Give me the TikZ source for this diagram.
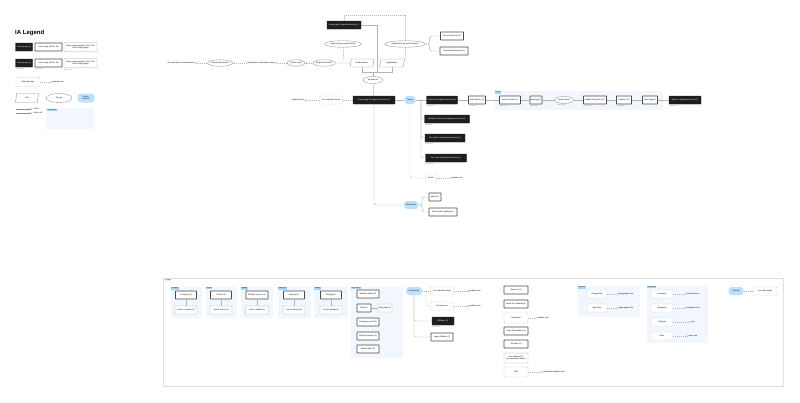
\documentclass[tikz,border=0pt]{standalone}
\usepackage{fontspec}
\setmainfont{Liberation Sans}
\usepackage{xcolor}
\usepackage{tikz}
\usetikzlibrary{shapes.geometric}
\usetikzlibrary{arrows.meta}
\usetikzlibrary{positioning}

\definecolor{ink}{HTML}{1E1E1E}
\definecolor{wire}{HTML}{B4B4B4}
\definecolor{actblue}{HTML}{BDE1FD}
\definecolor{areablue}{HTML}{F1F7FD}
\definecolor{tagblue}{HTML}{A9D3F5}

\begin{document}
\begin{tikzpicture}[x=1pt, y=-1pt, font=\fontsize{2}{2.4}\selectfont,
  blackpage/.style={draw=ink, fill=ink, text=white, minimum height=8pt, inner sep=0.5pt, rounded corners=0.3pt},
  page/.style={draw=black!70, line width=0.7pt, fill=white, minimum height=8pt, inner sep=0.5pt, rounded corners=0.3pt},
  lightpage/.style={draw=black!35, line width=0.45pt, fill=white, minimum height=8pt, inner sep=0.5pt, rounded corners=0.3pt},
  extpage/.style={draw=black!30, dashed, dash pattern=on 1pt off 0.8pt, line width=0.4pt, fill=white, minimum height=8pt, inner sep=0.5pt, rounded corners=0.8pt},
  tabpage/.style={draw=black!40, line width=0.4pt, fill=white, trapezium, trapezium left angle=60, trapezium right angle=120, trapezium stretches body, minimum height=8pt, inner sep=0.3pt},
  popup/.style={draw=black!40, line width=0.4pt, fill=white, ellipse, inner sep=0pt, minimum height=6.5pt},
  action/.style={fill=actblue, rounded corners=3pt, minimum height=8pt, inner sep=1pt},
  caption/.style={text=black!50, font=\fontsize{1.5}{1.8}\selectfont, anchor=north west, inner sep=0.2pt},
  tag/.style={fill=tagblue, font=\fontsize{1.6}{1.9}\selectfont, anchor=north west, inner sep=0.5pt},
  plain/.style={inner sep=0.3pt},
  line/.style={draw=wire, line width=0.45pt},
  link/.style={draw=wire, line width=0.45pt, dash pattern=on 1pt off 1pt, -{Stealth[length=1.6pt, width=1.5pt]}}
]

\useasboundingbox (0,0) rectangle (800,402);
\fill[white] (0,0) rectangle (800,402);

\node[font=\bfseries\fontsize{6}{7}\selectfont, anchor=west, inner sep=0pt] (legend) at (15,33) {IA Legend};
\node[blackpage, minimum width=17pt] (lg1) at (24,47) {Home page (1)};
\node[page, minimum width=27pt] (lg2) at (48.5,47) {Home page (1/2 lk, 2k)};
\node[lightpage, minimum width=33pt, minimum height=9pt, align=center] (lg3) at (80.5,47) {Home subsite pages (1/2 lk, 2k)\\Link \& thing pages};
\node[blackpage, minimum width=17pt] (lg4) at (24,63) {Home page (1)};
\node[page, minimum width=27pt] (lg5) at (48.5,63) {Home page (1/2 lk, 2k)};
\node[lightpage, minimum width=33pt, minimum height=9pt, align=center] (lg6) at (80.5,63) {Home subsite pages (1/2 lk, 2k)\\Link \& thing pages};
\node[caption] (lgc4) at ([yshift=-1pt]lg4.south west) {Sub domain};
\node[caption] (lgc5) at ([yshift=-1pt]lg5.south west) {Sub domain};
\node[caption] (lgc6) at ([yshift=-1pt]lg6.south west) {Sub domain};
\node[extpage, minimum width=24pt, minimum height=9pt] (lgext) at (28,82) {External page};
\node[plain] (lgweb) at (58,82) {website.com};
\node[tabpage, minimum width=23pt, minimum height=9pt] (lgtab) at (27,98) {Tab};
\node[popup, minimum width=26pt, minimum height=9pt] (lgpop) at (59,98) {Pop up};
\node[action, minimum width=17pt, minimum height=9pt, align=center] (lgact) at (86,98) {Action\\(click to)};
\coordinate (lgl1a) at (16,109);
\coordinate (lgl1b) at (32,109);
\coordinate (lgl2a) at (16,113);
\coordinate (lgl2b) at (32,113);
\node[plain, anchor=west] (lgt1) at (33,109) {Link to};
\node[plain, anchor=west] (lgt2) at (33,113) {Link to all};
\fill[areablue] (46,108) rectangle (94,129);
\node[tag] (lgarea) at (47,109) {Limited area};

\path[link] (lgext) -- (lgweb);
\path[draw=black!45, line width=0.45pt, -{Stealth[length=1.6pt, width=1.5pt]}] (lgl1a) -- (lgl1b);
\path[draw=black!45, line width=0.45pt, -{Stealth[length=1.6pt, width=1.5pt, open]}] (lgl2a) -- (lgl2b);

\node[blackpage, minimum width=34pt] (reghome) at (344,25) {Home page (Registered users) (1)};
\node[popup, minimum width=37pt] (loginsoc) at (343,44) {Login using a social network};
\node[popup, minimum width=41pt] (regsoc) at (405,44) {Registration via social network};
\node[page, minimum width=23pt] (tos) at (452,36) {Terms of Service (1)};
\node[page, minimum width=28pt] (pinfo) at (454,51) {Personal information (1)};
\node[tabpage, minimum width=24pt] (auth) at (362,63) {Authorization};
\node[tabpage, minimum width=25pt] (reg) at (392,63) {Registration};
\node[popup, minimum width=19pt] (forgot) at (324,63) {Forgot password?};
\node[popup, minimum width=18pt] (linkmail) at (296,63) {Link to email};
\node[plain] (regmail) at (261,63) {Registration confirmation email};
\node[popup, minimum width=25pt] (remind) at (220,63) {Password reminder};
\node[plain] (newpass) at (181,63) {An email with a new password};
\node[popup, minimum width=20pt, minimum height=7pt] (account) at (373,80) {My account};

\node[blackpage, minimum width=42pt] (home) at (374,100) {Home page (Unregistered users) (1)};
\node[extpage, minimum width=23pt] (corp) at (331,100) {For corporate clients};
\node[plain] (site) at (298,100) {Website.com};
\node[action, minimum width=11pt] (topics) at (410,100) {Topics};
\node[blackpage, minimum width=31pt] (topicsu) at (442,100) {Topics (Unregistered users) (1)};
\node[page, minimum width=17pt] (tart) at (477,100) {Topic articles (1)};
\fill[areablue] (495,91) rectangle (663,110);
\node[tag] (pricing) at (495,91) {Pricing};
\node[page, minimum width=21pt] (search) at (510,100) {Search results (1)};
\node[page, minimum width=12pt] (booking) at (536,100) {Booking (1)};
\node[popup, minimum width=19pt, minimum height=7pt] (book) at (564,100) {Book a table};
\node[page, minimum width=23pt] (extra) at (595,100) {Additional services (1)};
\node[page, minimum width=15pt] (pay) at (624,100) {Payment (1)};
\node[page, minimum width=15pt] (your) at (650,100) {Your Page (1)};
\node[blackpage, minimum width=32pt] (regpage) at (685,100) {Page for Registered users (1)};
\node[caption] (ctopicsu) at ([yshift=-1pt]topicsu.south west) {Sub domain};
\node[caption] (ctart) at ([yshift=-1pt]tart.south west) {Sub domain};
\node[caption] (csearch) at ([yshift=-1pt]search.south west) {Sub domain};
\node[caption] (cbooking) at ([yshift=-1pt]booking.south west) {Sub domain};
\node[caption] (cbook) at ([yshift=-1pt]book.south west) {Sub domain};
\node[caption] (cextra) at ([yshift=-1pt]extra.south west) {Sub domain};
\node[caption] (cpay) at ([yshift=-1pt]pay.south west) {Sub domain};
\node[caption] (cregpage) at ([yshift=-1pt]regpage.south west) {Sub domain};

\node[blackpage, minimum width=45pt] (mob) at (447,119) {Mobility solutions (Unregistered users) (1)};
\node[blackpage, minimum width=40pt] (clients) at (445,138) {Our clients (Unregistered users) (1)};
\node[blackpage, minimum width=41pt] (news) at (446,158) {Our news (Unregistered users) (1)};
\node[caption] (cmob) at ([yshift=-1pt]mob.south west) {Sub domain};
\node[caption] (cclients) at ([yshift=-1pt]clients.south west) {Sub domain};
\node[caption] (cnews) at ([yshift=-1pt]news.south west) {Sub domain};
\node[extpage, minimum width=11pt] (article) at (431,178) {Article};
\node[plain] (artweb) at (457,178) {website.com};
\node[action, minimum width=14pt] (info) at (411,205) {Information};
\node[page, minimum width=12pt] (about) at (435,197) {About (1)};
\node[page, minimum width=28pt] (terms) at (443,212) {Terms and Conditions (1)};
\coordinate (fork) at (421,100);

\path[link] (remind) -- (newpass);
\path[link] (regmail) -- (remind);
\path[link] (linkmail) -- (regmail);
\path[link] (forgot) -- (linkmail);
\path[line] (auth) -- (forgot);
\path[line, dash pattern=on 1pt off 1pt] (loginsoc) -- (loginsoc |- auth.north);
\path[line, dash pattern=on 1pt off 1pt] (regsoc) -- (regsoc |- reg.north);
\path[line, dash pattern=on 1pt off 1pt] (reghome.north) |- (344,15) -| (regsoc.north);
\path[line] (reghome.east) -| (377,72);
\path[line] (auth.south) |- (373,72) -- (account.north);
\path[line] (reg.south) |- (373,72);
\path[line, rounded corners=2pt] (regsoc.east) -- ++(4,0) |- (tos.west);
\path[line, rounded corners=2pt] (regsoc.east) -- ++(4,0) |- (pinfo.west);
\path[line] (account) -- (home);
\path[line, dash pattern=on 1pt off 1pt] (home) -- (corp);
\path[link] (corp) -- (site);
\path[line] (home) -- (topics);
\path[line] (topics) -- (topicsu);
\path[line] (topicsu) -- (tart);
\path[line] (tart) -- (search);
\path[line] (search) -- (booking);
\path[line] (booking) -- (book);
\path[line] (book) -- (extra);
\path[line] (extra) -- (pay);
\path[line] (pay) -- (your);
\path[line] (your) -- (regpage);
\path[line, rounded corners=2pt] (fork) |- (mob.west);
\path[line, rounded corners=2pt] (fork) |- (clients.west);
\path[line, rounded corners=2pt] (fork) |- (news.west);
\path[line, dash pattern=on 1pt off 1pt, rounded corners=2pt] (topics.south) |- (article.west);
\path[link] (article) -- (artweb);
\path[line, rounded corners=2pt] (home.south) |- (info.west);
\path[line, rounded corners=2pt] (info.east) -- ++(4,0) |- (about.west);
\path[line, rounded corners=2pt] (info.east) -- ++(4,0) |- (terms.west);

\draw[black!12, line width=0.4pt] (163,278) rectangle (783,386);
\node[fill=black!8, font=\fontsize{1.8}{2}\selectfont, anchor=north west, inner sep=0.5pt] (footer) at (165,279) {Footer};

\fill[areablue] (171,287) rectangle (202,318);
\fill[areablue] (206,287) rectangle (237,318);
\fill[areablue] (241,287) rectangle (273,318);
\fill[areablue] (278,287) rectangle (311,318);
\fill[areablue] (314,287) rectangle (348,318);
\fill[areablue] (351,287) rectangle (403,358);
\node[tag] (tcompany) at (171,287) {Company};
\node[tag] (tclients) at (206,287) {Clients};
\node[tag] (tmobility) at (241,287) {Mobility};
\node[tag] (tindustry) at (278,287) {Industry (1)};
\node[tag] (tsettings) at (314,287) {Settings};
\node[tag] (tservices) at (351,287) {Our services};

\node[page, minimum width=21pt] (fa1) at (186,295) {Company (1)};
\node[lightpage, minimum width=22pt] (fa2) at (186,310) {Link to company (1)};
\node[page, minimum width=21pt] (fb1) at (221,295) {Clients (1)};
\node[lightpage, minimum width=22pt] (fb2) at (221,310) {Link to clients (1)};
\node[page, minimum width=22pt] (fc1) at (257,295) {Mobility services (1)};
\node[lightpage, minimum width=23pt] (fc2) at (257,310) {Link to mobility (1)};
\node[page, minimum width=21pt] (fd1) at (294,295) {Industry (1)};
\node[lightpage, minimum width=22pt] (fd2) at (294,310) {Link to industry (1)};
\node[page, minimum width=21pt] (fe1) at (331,295) {Settings (1)};
\node[lightpage, minimum width=22pt] (fe2) at (331,310) {Link to settings (1)};
\path[line] (fa1) -- (fa2);
\path[line] (fb1) -- (fb2);
\path[line] (fc1) -- (fc2);
\path[line] (fd1) -- (fd2);
\path[line] (fe1) -- (fe2);

\node[page, minimum width=22pt] (srv1) at (368,294) {Mobility catalog (1)};
\node[page, minimum width=14pt] (blog) at (364,308) {Blog (1)};
\node[lightpage, minimum width=14pt] (blogpage) at (385,308) {Blog page (1)};
\node[page, minimum width=22pt] (srv2) at (368,322) {Company portal (1)};
\node[page, minimum width=22pt] (srv3) at (368,336) {Flight Generator (1)};
\node[page, minimum width=22pt] (srv4) at (368,349) {Special offer (1)};
\path[line] (blog) -- (blogpage);

\node[action, minimum width=16pt] (partner) at (414,291) {Partnership};
\node[extpage, minimum width=23pt] (corp2) at (442,291) {For corporate clients};
\node[extpage, minimum width=23pt] (biz) at (442,306) {For business};
\node[plain] (corpweb) at (475,291) {website.com};
\node[plain] (bizweb) at (475,306) {website.com};
\node[blackpage, minimum width=22pt] (aff) at (443,321) {Affiliates (1)};
\node[caption] (caff) at ([yshift=-1pt]aff.south west) {Sub domain};
\node[page, minimum width=22pt] (afflog) at (442,337) {Login Affiliates (1)};
\path[line, dash pattern=on 1pt off 1pt] (partner) -- (corp2);
\path[line, dash pattern=on 1pt off 1pt, rounded corners=2pt] (426,291) |- (biz.west);
\path[link] (corp2) -- (corpweb);
\path[link] (biz) -- (bizweb);
\path[line, rounded corners=2pt] (partner.south) |- (aff.west);
\path[line, rounded corners=2pt] (partner.south) |- (afflog.west);

\node[page, minimum width=24pt] (aboutus) at (516,290) {About us (1)};
\node[page, minimum width=24pt] (terms2) at (516,304) {Terms \& Conditions (1)};
\node[extpage, minimum width=24pt, minimum height=10pt] (newsl) at (516,318) {Newsletter};
\node[plain] (newsweb) at (543,318) {website.com};
\node[page, minimum width=24pt] (login2) at (516,331) {Login (Subscriber) (1)};
\node[page, minimum width=24pt] (sitemap) at (516,344) {Site map (1)};
\node[lightpage, minimum width=24pt, minimum height=10pt, align=center] (partners) at (516,358) {Our partners (1)\\(for corporate clients)};
\node[extpage, minimum width=24pt, minimum height=10pt] (faq) at (516,372) {FAQ};
\node[plain] (faqweb) at (554,372) {subdomain.website.com};
\path[link] (newsl) -- (newsweb);
\path[link] (faq) -- (faqweb);

\fill[areablue] (578,286) rectangle (640,317);
\node[tag] (tapp) at (578,286) {App links};
\node[extpage, minimum width=20pt] (gplay) at (597,294) {Google Play};
\node[extpage, minimum width=20pt] (astore) at (597,308) {App Store};
\node[plain] (gpweb) at (626,294) {play.google.com};
\node[plain] (asweb) at (626,308) {apps.apple.com};
\path[link] (gplay) -- (gpweb);
\path[link] (astore) -- (asweb);

\fill[areablue] (647,286) rectangle (708,343);
\node[tag] (tsocial) at (647,286) {Social links};
\node[extpage, minimum width=22pt] (fb) at (662,294) {Facebook};
\node[extpage, minimum width=22pt] (ig) at (662,308) {Instagram};
\node[extpage, minimum width=22pt] (tg) at (662,322) {Telegram};
\node[extpage, minimum width=22pt] (vb) at (662,336) {Viber};
\node[plain] (fbweb) at (693,294) {facebook.com};
\node[plain] (igweb) at (693,308) {instagram.com};
\node[plain] (tgweb) at (693,322) {t.me};
\node[plain] (vbweb) at (693,336) {viber.com};
\path[link] (fb) -- (fbweb);
\path[link] (ig) -- (igweb);
\path[link] (tg) -- (tgweb);
\path[link] (vb) -- (vbweb);

\node[action, minimum width=15pt] (contact) at (736,291) {Contacts};
\node[extpage, minimum width=24pt] (chat) at (765,291) {Live chat widget};
\path[link] (contact) -- (chat);

\end{tikzpicture}
\end{document}
